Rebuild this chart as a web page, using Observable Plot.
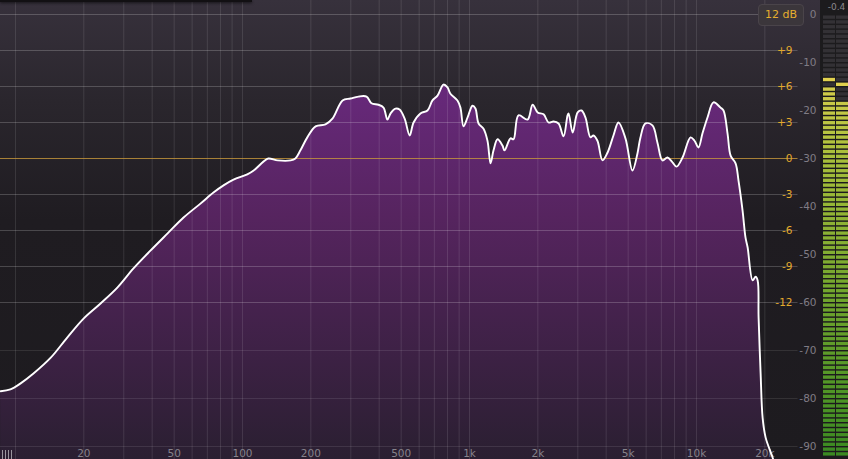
<!DOCTYPE html>
<html><head><meta charset="utf-8">
<script src="https://cdn.jsdelivr.net/npm/d3@7"></script>
<script src="https://cdn.jsdelivr.net/npm/@observablehq/plot@0.6"></script>
<style>
html,body{margin:0;padding:0;background:#1e1b20;overflow:hidden}
#wrap{position:relative;width:848px;height:459px;overflow:hidden}
#wrap svg{position:absolute;top:0;display:block}
#topbar{position:absolute;left:0;top:0;width:252px;height:2px;background:#121013;box-shadow:0 1px 3px rgba(0,0,0,.7)}
#btn{position:absolute;left:758px;top:4px;width:44px;height:20px;border-radius:4px;background:#3b363b;border:1px solid #4a444a;color:#e6ae2e;font:11px 'DejaVu Sans',sans-serif;line-height:20px;text-align:center;box-sizing:content-box}
#piano{position:absolute;left:2px;top:450px;width:11px;height:9px;background:repeating-linear-gradient(90deg,#9a969e 0 1px,transparent 1px 3px)}
</style></head><body><div id="wrap"></div>
<script>
// Spectrum (Hz, dB)
const freqHz = [8.6,9.5,10.5,12.0,14.3,16.9,20,23.7,28.1,33.1,39.3,46.8,55,65.3,74.5,82.5,91.3,105,112,124,130,143,163,171,180,193,210,232,249,276,299,324,352,370,397,418,435,449,472,492,518,545,567,608,653,687,723,768,800,824,885,912,941,980,1031,1062,1096,1153,1200,1238,1276,1329,1397,1426,1516,1563,1644,1802,1897,1996,2120,2230,2345,2467,2596,2704,2733,2847,2995,3115,3243,3411,3516,3661,3852,4053,4307,4531,4864,5222,5491,5663,5957,6395,6729,7080,7450,7839,8164,8676,9413,9799,10200,10620,11170,11880,12760,13150,13700,14130,14860,15310,15950,16440,16790,17670,18210,18590,18770,19160,19550,20150,21630,22500];
const levelDb = [-78.5,-78.1,-76.9,-74.8,-71.5,-67.3,-63.3,-60.2,-56.9,-52.9,-49.2,-45.6,-42.3,-39.4,-37.1,-35.6,-34.4,-33.3,-32.5,-30.6,-30.0,-30.4,-30.4,-30.0,-28.3,-25.6,-23.3,-22.9,-21.7,-17.9,-17.5,-17.1,-17.1,-18.5,-18.8,-19.4,-21.9,-20.6,-19.6,-19.8,-21.7,-25.2,-22.5,-20.6,-20.0,-17.9,-16.9,-14.6,-15.2,-16.5,-17.9,-19.4,-23.3,-21.5,-19.0,-19.6,-22.7,-23.8,-26.3,-31.0,-28.3,-26.0,-27.3,-28.3,-25.8,-26.0,-21.0,-21.9,-18.8,-20.4,-20.8,-22.5,-22.3,-22.7,-25.4,-21.0,-20.6,-24.6,-20.4,-20.0,-21.5,-25.6,-25.2,-26.3,-30.4,-28.8,-25.2,-22.5,-25.8,-32.5,-29.0,-25.6,-22.7,-23.1,-26.7,-30.4,-29.8,-30.8,-31.7,-29.8,-25.6,-26.3,-27.7,-24.8,-21.5,-18.3,-19.4,-20.0,-24.8,-29.4,-31.0,-34.6,-40.8,-46.5,-48.5,-55.4,-54.6,-55.4,-63.1,-74.8,-84.0,-88.1,-92.3,-95];

// Axes / ticks
const eqTicks = [9,6,3,0,-3,-6,-9,-12];
const eqLabels = ["+9","+6","+3","0","-3","-6","-9","-12"];
const dbTicks = [0,-10,-20,-30,-40,-50,-60,-70,-80,-90];
const dbLabels = ["0","-10","-20","-30","-40","-50","-60","-70","-80","-90"];
const freqTicks = [20,50,100,200,500,1000,2000,5000,10000,20000];
const freqLabels = ["20","50","100","200","500","1k","2k","5k","10k","20k"];
const freqGrid = [10,20,30,40,50,60,70,80,90,100,200,300,400,500,600,700,800,900,1000,2000,3000,4000,5000,6000,7000,8000,9000,10000,20000];
const lowGrid = [-70,-80,-90];

// Level meter
const meterChannels = ["L","R"];
const meterLevel = [-15.1,-17.7];
const meterPeak = [-13.5,-14.4];
const peakReadout = "-0.4";
const rangeLabel = "12 dB";

const eqToDb = e => -30 + 2.5*e;
const spectrum = freqHz.map((f,i)=>({f, db: levelDb[i]}));
const yDomain = [-92.71, 2.917];

const main = Plot.plot({
  width: 848, height: 459, margin: 0,
  x: {type:"log", domain:[8.59, 46720], axis:null},
  y: {domain: yDomain, axis:null},
  style: {background:"linear-gradient(180deg,#37313c 0%,#2a262d 22%,#1f1c21 48%,#1d1b1f 100%)", fontFamily:"'DejaVu Sans',sans-serif", overflow:"hidden"},
  marks: [
    Plot.areaY(spectrum, {x:"f", y1:-100, y2:"db", curve:"catmull-rom", fill:"url(#specFill)"}),
    Plot.ruleX(freqGrid, {x:d=>d, stroke:"#ffffff", strokeOpacity:0.11}),
    Plot.ruleY(eqTicks.filter(d=>d!==0).concat([12]), {y:eqToDb, x1:8.59, x2:28000, stroke:"#ffffff", strokeOpacity:0.2}),
    Plot.ruleY(lowGrid, {y:d=>d, x1:8.59, x2:28000, stroke:"#ffffff", strokeOpacity:0.1}),
    Plot.ruleY([0], {y:eqToDb, x1:8.59, x2:28000, stroke:"#c99a3c", strokeOpacity:0.8}),
    Plot.text(freqTicks, {x:d=>d, text:(d,i)=>freqLabels[i], frameAnchor:"bottom", lineAnchor:"bottom", dy:-3, fill:"#86828b", fontSize:10.5}),
    Plot.line(spectrum, {x:"f", y:"db", curve:"catmull-rom", stroke:"#ffffff", strokeWidth:1.9}),
    Plot.text(eqTicks, {y:eqToDb, text:(d,i)=>eqLabels[i], frameAnchor:"right", dx:-56, textAnchor:"end", fill:"#e3aa2d", fontSize:10.5}),
    Plot.text(dbTicks, {y:d=>d, text:(d,i)=>dbLabels[i], frameAnchor:"right", dx:-32, textAnchor:"end", fill:"#807c85", fontSize:10.5})
  ]
});
main.insertAdjacentHTML("afterbegin",
  `<defs><linearGradient id="specFill" gradientUnits="userSpaceOnUse" x1="0" y1="84" x2="0" y2="459">
    <stop offset="0" stop-color="#68297c"/><stop offset="0.35" stop-color="#56245f"/><stop offset="1" stop-color="#2a1f31"/>
  </linearGradient></defs>`);
main.style.left = "0px";

// Meter segments derived from meter levels
const segColor = d3.scaleLinear().domain([-92,-60,-30,-12]).range(["#3b8a22","#6fa42d","#a8bf3b","#dcd04f"]);
const segs = [];
meterChannels.forEach((ch,i)=>{
  for (let d=-92; d<0; d++) {
    const lit = d + 1 <= meterLevel[i] + 0.5;
    const peak = d <= meterPeak[i] && meterPeak[i] < d + 1;
    segs.push({ch, d, fill: peak ? "#e0d14e" : lit ? segColor(d) : "#333135"});
  }
});
const meter = Plot.plot({
  width: 28, height: 459, margin: 0,
  x: {type:"band", domain: meterChannels, range:[2,28], paddingInner:0.1, paddingOuter:0, axis:null},
  y: {domain: yDomain, axis:null},
  style: {background:"#1c1b1d", fontFamily:"'DejaVu Sans',sans-serif", overflow:"hidden"},
  marks: [
    Plot.rect(segs, {x:"ch", y1:"d", y2:d=>d.d+0.7, fill:d=>d.fill}),
    Plot.text([peakReadout], {text:d=>d, frameAnchor:"top", dy:3, dx:2, lineAnchor:"top", fill:"#8a888c", fontSize:9})
  ]
});
meter.style.left = "820px";

const wrap = document.getElementById("wrap");
wrap.appendChild(main);
wrap.appendChild(meter);
wrap.insertAdjacentHTML("beforeend", `<div id="topbar"></div><div id="btn">${rangeLabel}</div><div id="piano"></div>`);
</script></body></html>
